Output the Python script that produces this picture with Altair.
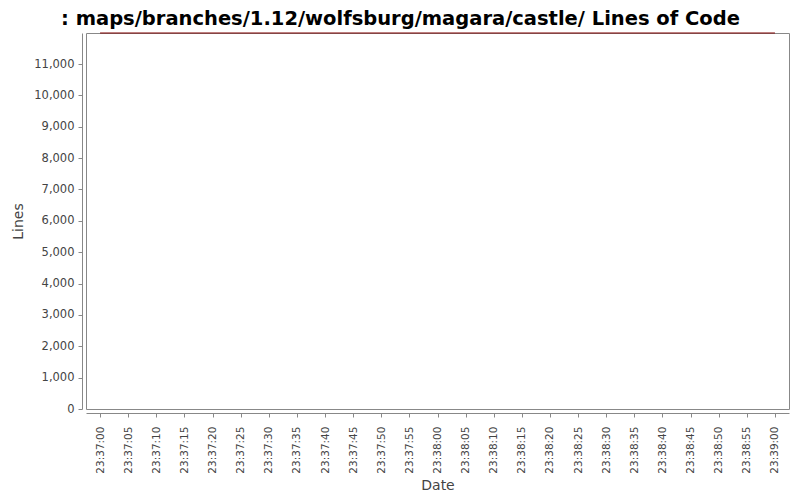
import altair as alt
import pandas as pd

dates = ["2009-01-01T23:37:00", "2009-01-01T23:39:00"]
lines = [11990, 11990]
y_ticks = [0, 1000, 2000, 3000, 4000, 5000, 6000, 7000, 8000, 9000, 10000, 11000]
x_ticks = [
    "23:37:00", "23:37:05", "23:37:10", "23:37:15", "23:37:20", "23:37:25",
    "23:37:30", "23:37:35", "23:37:40", "23:37:45", "23:37:50", "23:37:55",
    "23:38:00", "23:38:05", "23:38:10", "23:38:15", "23:38:20", "23:38:25",
    "23:38:30", "23:38:35", "23:38:40", "23:38:45", "23:38:50", "23:38:55",
    "23:39:00",
]
x_domain = [(23, 36, 57, 500), (23, 39, 2, 500)]
y_domain = [0, 11990]


def dt(h, m, s, ms=0):
    return alt.DateTime(year=2009, month=1, date=1, hours=h, minutes=m, seconds=s, milliseconds=ms)


tick_values = [dt(*[int(p) for p in t.split(":")]) for t in x_ticks]
domain_values = [dt(*d) for d in x_domain]

df = pd.DataFrame({"date": dates, "lines": lines})

font = "DejaVu Sans"

chart = alt.Chart(df).mark_line(color="#800000", strokeWidth=1.2, clip=False).encode(
    x=alt.X(
        "date:T",
        title="Date",
        scale=alt.Scale(domain=domain_values, nice=False),
        axis=alt.Axis(
            format="%H:%M:%S",
            values=tick_values,
            labelAngle=270,
            labelAlign="right",
            labelBaseline="middle",
            labelPadding=9,
            labelFontSize=10.5,
            offset=4,
            tickSize=4,
            labelOverlap=False,
            grid=False,
            titlePadding=5,
        ),
    ),
    y=alt.Y(
        "lines:Q",
        title="Lines",
        scale=alt.Scale(domain=y_domain, nice=False, zero=True),
        axis=alt.Axis(
            values=y_ticks,
            format=",.0f",
            offset=4,
            tickSize=4,
            labelPadding=4,
            labelFontSize=11.5,
            grid=False,
            titlePadding=8,
        ),
    ),
).properties(
    width=703,
    height=376,
    background="white",
    autosize=alt.AutoSizeParams(type="none"),
    padding={"left": 78, "top": 25, "right": 3, "bottom": 83},
    title=alt.TitleParams(
        text=": maps/branches/1.12/wolfsburg/magara/castle/ Lines of Code",
        font=font,
        fontSize=19.5,
        fontWeight="bold",
        color="#000000",
        anchor="middle",
        dx=-37,
        offset=1,
    ),
).configure_view(
    stroke="#888888", strokeWidth=1
).configure_axis(
    labelFont=font,
    labelColor="#444444",
    titleFont=font,
    titleFontSize=14,
    titleFontWeight="normal",
    titleColor="#444444",
    domainColor="#888888",
    tickColor="#888888",
)

chart.save("out.html", embed_options={"renderer": "svg", "actions": False})
